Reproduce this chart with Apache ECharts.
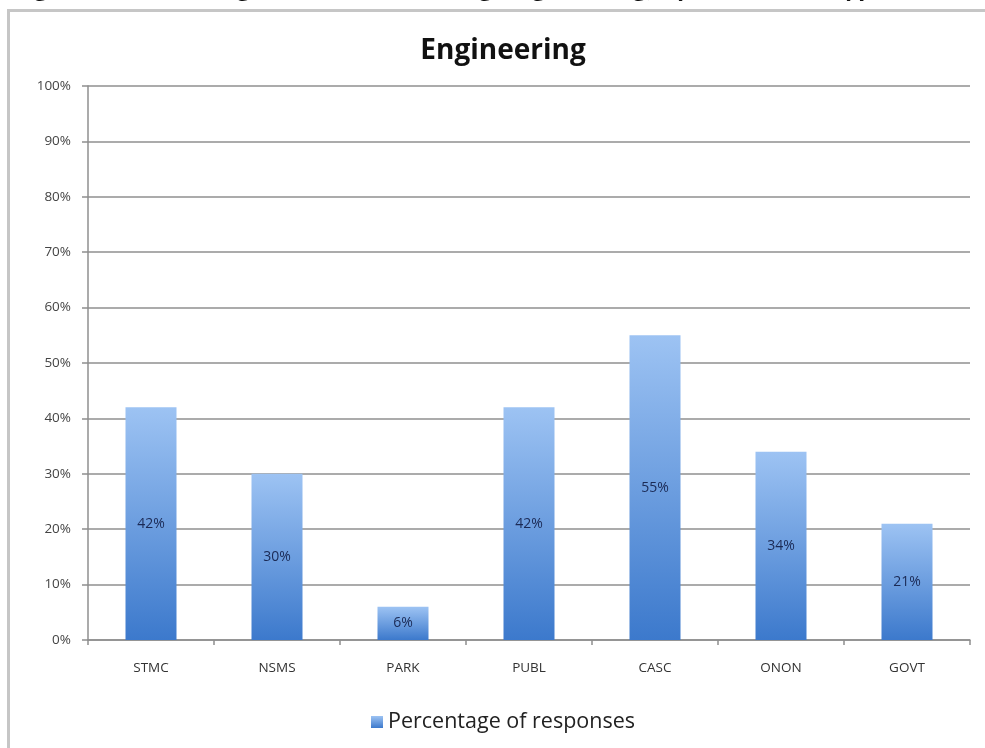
<!DOCTYPE html>
<html>
<head>
<meta charset="utf-8">
<script src="https://cdn.jsdelivr.net/npm/echarts@6/dist/echarts.min.js"></script>
<style>
  html, body { margin: 0; padding: 0; background: #fff; }
  #chart { width: 985px; height: 748px; }
</style>
</head>
<body>
<div id="chart"></div>
<script>
// Share of responses per institution type
const categories = ['STMC', 'NSMS', 'PARK', 'PUBL', 'CASC', 'ONON', 'GOVT'];
const responses = [42, 30, 6, 42, 55, 34, 21];
const yTicks = [0, 10, 20, 30, 40, 50, 60, 70, 80, 90, 100];

const FONT = '"Open Sans", Lato, sans-serif';

const chart = echarts.init(document.getElementById('chart'), null, { renderer: 'canvas' });

const barFill = new echarts.graphic.LinearGradient(0, 0, 0, 1, [
  { offset: 0, color: '#9dc3f3' },
  { offset: 1, color: '#3c79cc' }
]);

chart.setOption({
  animation: false,
  backgroundColor: '#ffffff',
  title: {
    text: 'Engineering',
    left: 498,
    textAlign: 'center',
    top: 32,
    textStyle: { fontFamily: FONT, fontSize: 28, fontWeight: 'bold', color: '#111' }
  },
  graphic: [
    {
      type: 'rect',
      shape: { x: 8.5, y: 10.5, width: 1100, height: 900 },
      style: { fill: 'none', stroke: '#c6c6c6', lineWidth: 3 },
      silent: true
    },
    {
      type: 'text',
      left: 10,
      top: -27,
      style: {
        text: 'Figure 2: Percentage of members using Engineering, by institution type',
        font: 'bold 28px Lato, sans-serif',
        fill: '#111'
      },
      silent: true
    }
  ],
  legend: {
    data: ['Percentage of responses'],
    left: 366,
    top: 706,
    itemWidth: 12,
    itemHeight: 12,
    itemGap: 6,
    icon: 'rect',
    textStyle: { fontFamily: FONT, fontSize: 21.5, color: '#222' }
  },
  grid: { left: 88, right: 15, top: 86, bottom: 108, containLabel: false },
  xAxis: {
    type: 'category',
    data: categories,
    axisLine: { lineStyle: { color: '#8f8f8f', width: 1.5 } },
    axisTick: { show: true, length: 5, lineStyle: { color: '#8f8f8f', width: 1.5 } },
    axisLabel: { margin: 21, fontFamily: FONT, fontSize: 13.5, color: '#333' }
  },
  yAxis: {
    type: 'value',
    min: yTicks[0],
    max: yTicks[yTicks.length - 1],
    interval: 10,
    axisLine: { show: true, lineStyle: { color: '#8f8f8f', width: 1.5 } },
    axisTick: { show: true, length: 6, lineStyle: { color: '#8f8f8f', width: 1.5 } },
    axisLabel: {
      margin: 17,
      fontFamily: FONT,
      fontSize: 13.5,
      color: '#444',
      formatter: v => v + '%'
    },
    splitLine: { show: true, lineStyle: { color: '#8f8f8f', width: 1.5 } }
  },
  series: [
    {
      name: 'Percentage of responses',
      type: 'bar',
      data: responses,
      barWidth: 51,
      itemStyle: { color: barFill },
      label: {
        show: true,
        position: 'inside',
        formatter: p => p.value + '%',
        fontFamily: FONT,
        fontSize: 14,
        color: '#1b2a55'
      }
    }
  ]
});
</script>
</body>
</html>
